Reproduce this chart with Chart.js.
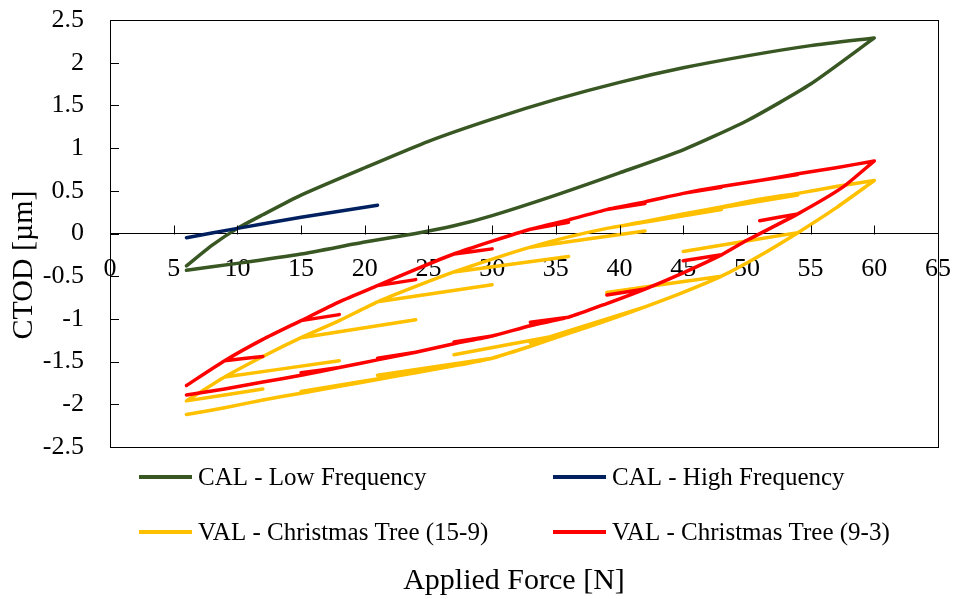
<!DOCTYPE html>
<html>
<head>
<meta charset="utf-8">
<script src="https://cdn.jsdelivr.net/npm/chart.js@4.4.1/dist/chart.umd.min.js"></script>
<style>
  body { margin: 0; background: #fff; }
  #wrap { width: 955px; height: 599px; }
</style>
</head>
<body>
<div id="wrap"><canvas id="myChart" width="955" height="599"></canvas></div>
<script>
// achsen
const xTicks = [0, 5, 10, 15, 20, 25, 30, 35, 40, 45, 50, 55, 60, 65];
const yTicks = [-2.5, -2, -1.5, -1, -0.5, 0, 0.5, 1, 1.5, 2, 2.5];

// CAL - Low Frequency (Belastung, dann Entlastung)
const calLowLoadX = [6, 10, 15, 20, 24, 27, 30, 35, 40, 45, 50, 55, 60];
const calLowLoadY = [-0.43, -0.35, -0.24, -0.1, 0, 0.09, 0.21, 0.45, 0.71, 0.98, 1.32, 1.75, 2.29];
const calLowUnloadX = [60, 55, 50, 45, 40, 35, 30, 25, 20, 15, 12, 10, 8, 6];
const calLowUnloadY = [2.29, 2.2, 2.08, 1.94, 1.77, 1.57, 1.34, 1.08, 0.77, 0.45, 0.22, 0.06, -0.14, -0.38];

// CAL - High Frequency
const calHighX = [6, 10, 15, 21];
const calHighY = [-0.05, 0.06, 0.19, 0.33];

// VAL - Christmas Tree (15-9)
const val159LoadX = [6, 9, 12, 15, 18, 21, 24, 27, 30, 33, 36, 39, 42, 45, 48, 51, 54, 57, 60];
const val159LoadY = [-1.96, -1.68, -1.44, -1.22, -1.02, -0.8, -0.62, -0.45, -0.3, -0.16, -0.04, 0.06, 0.14, 0.23, 0.31, 0.4, 0.47, 0.55, 0.62];
const val159UnloadX = [60, 57, 54, 51, 48, 45, 42, 39, 36, 33, 30, 27, 24, 21, 18, 15, 12, 9, 6];
const val159UnloadY = [0.62, 0.3, 0.01, -0.26, -0.5, -0.69, -0.86, -1.02, -1.17, -1.32, -1.46, -1.55, -1.63, -1.71, -1.79, -1.87, -1.95, -2.04, -2.12];
const val159SpikeFromX = [6, 9, 15, 21, 27, 33, 39, 45, 54, 48, 42, 36, 30, 24];
const val159SpikeFromY = [-1.96, -1.68, -1.22, -0.8, -0.45, -0.16, 0.06, 0.23, 0.01, -0.5, -0.86, -1.17, -1.46, -1.63];
const val159SpikeToX = [12, 18, 24, 30, 36, 42, 48, 54, 45, 39, 33, 27, 21, 15];
const val159SpikeToY = [-1.82, -1.49, -1.01, -0.6, -0.27, 0.03, 0.28, 0.45, -0.21, -0.69, -1.28, -1.42, -1.66, -1.85];

// VAL - Christmas Tree (9-3)
const val93LoadX = [6, 9, 12, 15, 18, 21, 24, 27, 30, 33, 36, 39, 42, 45, 48, 51, 54, 57, 60];
const val93LoadY = [-1.78, -1.49, -1.24, -1.02, -0.8, -0.61, -0.42, -0.24, -0.09, 0.05, 0.16, 0.28, 0.37, 0.47, 0.55, 0.62, 0.7, 0.77, 0.85];
const val93UnloadX = [60, 57.5, 54, 50, 48, 45, 42, 39, 36, 33, 30, 27, 24, 21, 18, 15, 12, 9, 6];
const val93UnloadY = [0.85, 0.54, 0.23, -0.08, -0.25, -0.46, -0.65, -0.82, -0.98, -1.08, -1.2, -1.29, -1.39, -1.48, -1.57, -1.66, -1.74, -1.82, -1.89];
const val93SpikeFromX = [9, 15, 21, 27, 33, 39, 45, 51, 54, 48, 42, 36, 30, 24, 18];
const val93SpikeFromY = [-1.49, -1.02, -0.61, -0.24, 0.05, 0.28, 0.47, 0.62, 0.23, -0.25, -0.65, -0.98, -1.2, -1.39, -1.57];
const val93SpikeToX = [12, 18, 24, 30, 36, 42, 48, 54, 51, 45, 39, 33, 27, 21, 15];
const val93SpikeToY = [-1.44, -0.95, -0.54, -0.18, 0.13, 0.35, 0.54, 0.69, 0.15, -0.32, -0.72, -1.04, -1.27, -1.46, -1.63];

const seriesNames = ['CAL - Low Frequency', 'CAL - High Frequency', 'VAL - Christmas Tree (15-9)', 'VAL - Christmas Tree (9-3)'];
const seriesColors = ['#385723', '#002060', '#FFC000', '#FF0000'];

const FONT = "'Liberation Serif', 'Times New Roman', serif";

const pts = (xs, ys) => xs.map((x, i) => ({ x: x, y: ys[i] }));
const gap = { x: null, y: null };

// Linie + kurze Äste, getrennt durch Lücken
function treePath(lx, ly, ux, uy, fx, fy, tx, ty) {
    let out = pts(lx, ly).concat(pts(ux, uy));
    fx.forEach((x, i) => {
        out.push(gap, { x: x, y: fy[i] }, { x: tx[i], y: ty[i] });
    });
    return out;
}

const lineStyle = (i, order) => ({
    label: seriesNames[i],
    borderColor: seriesColors[i],
    backgroundColor: seriesColors[i],
    borderWidth: 3.5,
    pointRadius: 0,
    showLine: true,
    spanGaps: false,
    tension: 0.2,
    borderCapStyle: 'round',
    borderJoinStyle: 'round',
    order: order
});

// Rahmen, Ticks nach innen, Legende und Achsentitel
const decoPlugin = {
    id: 'deco',
    afterDraw(chart) {
        const { ctx, chartArea: a, scales } = chart;
        const xs = scales.x, ys = scales.y;
        const y0 = Math.round(ys.getPixelForValue(0)) + 0.5;
        ctx.save();
        ctx.strokeStyle = '#000';
        ctx.lineWidth = 1;
        ctx.strokeRect(Math.round(a.left) + 0.5, Math.round(a.top) + 0.5, Math.round(a.right - a.left), Math.round(a.bottom - a.top));
        ctx.beginPath();
        yTicks.forEach(v => {
            const p = Math.round(ys.getPixelForValue(v)) + 0.5;
            ctx.moveTo(a.left, p);
            ctx.lineTo(a.left + 9, p);
        });
        xTicks.forEach(v => {
            const p = Math.round(xs.getPixelForValue(v)) + 0.5;
            ctx.moveTo(p, y0);
            ctx.lineTo(p, y0 - 9);
        });
        ctx.stroke();

        // Legende (2 Spalten)
        const cols = [139, 553];
        const rows = [477, 532];
        ctx.font = '25px ' + FONT;
        ctx.textBaseline = 'middle';
        ctx.textAlign = 'left';
        seriesNames.forEach((name, i) => {
            const cx = cols[i % 2], cy = rows[Math.floor(i / 2)];
            ctx.strokeStyle = seriesColors[i];
            ctx.lineWidth = 4;
            ctx.beginPath();
            ctx.moveTo(cx, cy);
            ctx.lineTo(cx + 53, cy);
            ctx.stroke();
            ctx.fillStyle = '#000';
            ctx.fillText(name, cx + 59, cy + 1);
        });

        // Achsentitel
        ctx.font = '30px ' + FONT;
        ctx.textAlign = 'center';
        ctx.fillText('Applied Force [N]', 514, 581);
        ctx.translate(24, 265);
        ctx.rotate(-Math.PI / 2);
        ctx.fillText('CTOD [µm]', 0, 0);
        ctx.restore();
    }
};

const noPad = s => { s.paddingLeft = 0; s.paddingRight = 0; s.paddingTop = 0; s.paddingBottom = 0; };

const ctx = document.getElementById('myChart').getContext('2d');
new Chart(ctx, {
    type: 'scatter',
    data: {
        datasets: [
            Object.assign(lineStyle(0, 4), { data: pts(calLowLoadX, calLowLoadY).concat(pts(calLowUnloadX, calLowUnloadY)) }),
            Object.assign(lineStyle(1, 3), { data: pts(calHighX, calHighY) }),
            Object.assign(lineStyle(2, 2), { data: treePath(val159LoadX, val159LoadY, val159UnloadX, val159UnloadY, val159SpikeFromX, val159SpikeFromY, val159SpikeToX, val159SpikeToY) }),
            Object.assign(lineStyle(3, 1), { data: treePath(val93LoadX, val93LoadY, val93UnloadX, val93UnloadY, val93SpikeFromX, val93SpikeFromY, val93SpikeToX, val93SpikeToY) })
        ]
    },
    options: {
        responsive: false,
        animation: false,
        layout: { padding: { top: 20, right: 17, bottom: 152, left: 0 } },
        plugins: {
            legend: { display: false },
            tooltip: { enabled: false }
        },
        scales: {
            x: {
                type: 'linear',
                position: { y: 0 },
                min: 0,
                max: 65,
                afterBuildTicks: s => { s.ticks = xTicks.map(v => ({ value: v })); },
                afterFit: noPad,
                grid: { display: false, drawTicks: false },
                border: { display: true, color: '#000', width: 1 },
                ticks: {
                    color: '#000',
                    font: { family: FONT, size: 26 },
                    padding: 20,
                    maxRotation: 0,
                    autoSkip: false,
                    callback: v => String(v)
                }
            },
            y: {
                type: 'linear',
                min: -2.5,
                max: 2.5,
                afterBuildTicks: s => { s.ticks = yTicks.map(v => ({ value: v })); },
                afterFit: s => { noPad(s); s.width = 110; },
                grid: { display: false, drawTicks: false },
                border: { display: true, color: '#000', width: 1 },
                ticks: {
                    color: '#000',
                    font: { family: FONT, size: 26 },
                    padding: 26,
                    callback: v => String(v)
                }
            }
        }
    },
    plugins: [decoPlugin]
});
</script>
</body>
</html>
